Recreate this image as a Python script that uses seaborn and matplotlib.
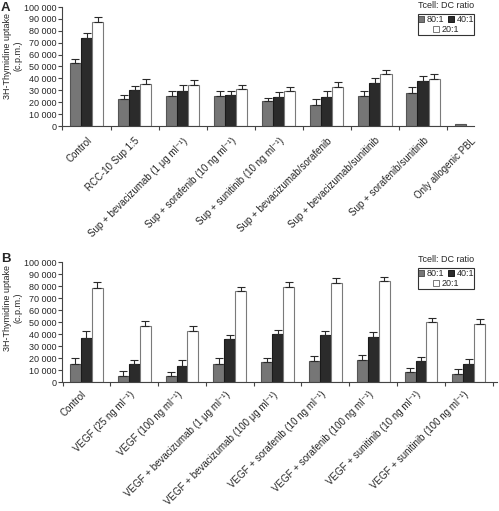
import numpy as np
import pandas as pd
import matplotlib
matplotlib.use("Agg")
import matplotlib.pyplot as plt
import seaborn as sns
from matplotlib.lines import Line2D
from matplotlib.patches import Rectangle
from matplotlib.ticker import FuncFormatter
from matplotlib.transforms import ScaledTranslation

# ---------------- data ----------------
ratios = ["80:1", "40:1", "20:1"]

cats_a = ["Control", "RCC-10 Sup 1:5", "Sup + bevacizumab (1 μg ml⁻¹)",
          "Sup + sorafenib (10 ng ml⁻¹)", "Sup + sunitinib (10 ng ml⁻¹)",
          "Sup + bevacizumab/sorafenib", "Sup + bevacizumab/sunitinib",
          "Sup + sorafenib/sunitinib", "Only allogenic PBL"]
a_80 = [53000, 23000, 25000, 25500, 21000, 17500, 25000, 28000, 2000]
a_80_err = [3600, 3400, 4200, 3900, 2500, 5500, 4500, 4800, 0]
a_40 = [74000, 30300, 29700, 26000, 24500, 24500, 36500, 38000, np.nan]
a_40_err = [4200, 3400, 4500, 3600, 4000, 5000, 3600, 4200, np.nan]
a_20 = [87000, 35000, 34500, 30800, 29500, 32500, 43500, 39500, np.nan]
a_20_err = [4500, 4500, 4500, 3400, 3000, 4500, 3400, 4200, np.nan]

cats_b = ["Control", "VEGF (25 ng ml⁻¹)", "VEGF (100 ng ml⁻¹)",
          "VEGF + bevacizumab (1 μg ml⁻¹)", "VEGF + bevacizumab (100 μg ml⁻¹)",
          "VEGF + sorafenib (10 ng ml⁻¹)", "VEGF + sorafenib (100 ng ml⁻¹)",
          "VEGF + sunitinib (10 ng ml⁻¹)", "VEGF + sunitinib (100 ng ml⁻¹)"]
b_80 = [15300, 5300, 4700, 15300, 16400, 17500, 18300, 8300, 6700]
b_80_err = [4400, 4200, 3900, 4400, 3900, 4200, 4400, 3300, 4400]
b_40 = [36900, 15000, 13600, 35600, 40000, 39200, 37500, 17500, 15300]
b_40_err = [5500, 3300, 4400, 3600, 3000, 3600, 3900, 3000, 3900]
b_20 = [78000, 46700, 42500, 75600, 79200, 82500, 84200, 50000, 48300]
b_20_err = [5300, 4200, 4200, 3300, 4200, 3900, 3000, 3300, 4200]

yticks = list(range(0, 100001, 10000))
ylabel = "3H-Thymidine uptake\n(c.p.m.)"
legend_title = "Tcell: DC ratio"

# ---------------- style ----------------
sns.set_style("ticks")
plt.rcParams['font.family'] = ['Liberation Sans', 'DejaVu Sans']

fills = {"80:1": "#767676", "40:1": "#2b2b2b", "20:1": "#ffffff"}
edges = {"80:1": "#555555", "40:1": "#1a1a1a", "20:1": "#7a7a7a"}
axcol = "#444444"
W, H = 499, 511


def long_df(cats, series, errs):
    rows = []
    for r, vals, ers in zip(ratios, series, errs):
        for c, v, e in zip(cats, vals, ers):
            rows.append({"category": c, "ratio": r, "value": v, "err": e})
    return pd.DataFrame(rows)


def panel(fig, ax, df, cats, xmax, label_pad, label_dx):
    sns.barplot(data=df, x="category", y="value", hue="ratio", order=cats,
                hue_order=ratios, palette=fills, width=0.69, saturation=1,
                errorbar=None, legend=False, ax=ax, linewidth=0.8)
    lookup = df.set_index(["category", "ratio"])["err"]
    for cont, r in zip(ax.containers, ratios):
        for bar in cont:
            bar.set_edgecolor(edges[r])
            h = bar.get_height()
            if not np.isfinite(h):
                continue
            xc = bar.get_x() + bar.get_width() / 2
            i = int(round(xc))
            e = lookup[(cats[i], r)]
            if not np.isfinite(e) or e <= 0:
                continue
            ax.errorbar([xc], [h], yerr=[[0], [e]], fmt='none', ecolor='#2a2a2a',
                        elinewidth=0.8, capsize=2.6, capthick=0.8, zorder=3)
    ax.set_yticks(yticks)
    ax.yaxis.set_major_formatter(FuncFormatter(lambda v, _: f"{int(v):,}".replace(",", " ")))
    ax.set_xticks(range(len(cats)))
    ax.set_xticklabels(cats, rotation=45, ha='right', va='top', rotation_mode='anchor')
    bounds = np.arange(-0.5, len(cats), 1)
    ax.set_xticks(bounds[bounds <= xmax], minor=True)
    ax.set_xlim(-0.5, xmax)
    ax.set_ylim(0, 100000)
    ax.tick_params(axis='x', which='major', length=0, pad=label_pad, labelsize=7)
    ax.tick_params(axis='x', which='minor', length=3, width=0.8, color=axcol)
    ax.tick_params(axis='y', length=3, width=0.8, color=axcol, pad=1.5, labelsize=6.5)
    off = ScaledTranslation(label_dx / 100, 0, fig.dpi_scale_trans)
    for lab in ax.get_xticklabels():
        lab.set_transform(lab.get_transform() + off)
    ax.set_xlabel("")
    ax.set_ylabel("")
    for s in ["top", "right"]:
        ax.spines[s].set_visible(False)
    for s in ["left", "bottom"]:
        ax.spines[s].set_color(axcol)
        ax.spines[s].set_linewidth(0.8)


def legend_block(fig, ax, x0, x1, ytop_box, ybot_box, ytitle, yrow1, yrow2):
    handles = [Line2D([0], [0], marker='s', linestyle='none', markersize=4,
                      markerfacecolor=fills[r], markeredgecolor=edges[r],
                      markeredgewidth=0.7, label=r) for r in ratios]
    xc = (x0 + x1) / 2 / W
    leg1 = ax.legend(handles=handles[:2], ncol=2, frameon=False, fontsize=6.5,
                     loc='center', bbox_to_anchor=(xc, 1 - yrow1 / H),
                     bbox_transform=fig.transFigure, handlelength=0.6,
                     handletextpad=0.3, columnspacing=0.5, borderpad=0,
                     borderaxespad=0)
    ax.add_artist(leg1)
    ax.legend(handles=handles[2:], frameon=False, fontsize=6.5, loc='center',
              bbox_to_anchor=(xc, 1 - yrow2 / H), bbox_transform=fig.transFigure,
              handlelength=0.6, handletextpad=0.3, borderpad=0, borderaxespad=0)
    fig.patches.append(Rectangle((x0 / W, 1 - ybot_box / H), (x1 - x0) / W,
                                 (ybot_box - ytop_box) / H, transform=fig.transFigure,
                                 fill=False, edgecolor='#333333', linewidth=0.8))
    fig.text(xc, 1 - ytitle / H, legend_title, ha='center', va='center', fontsize=6.5)


fig = plt.figure(figsize=(W / 100, H / 100), dpi=100)

# panel A: left 62.5, right 474, top 7, bottom 126
axA = fig.add_axes([62.5 / W, 1 - 126 / H, (474 - 62.5) / W, 119 / H])
dfA = long_df(cats_a, [a_80, a_40, a_20], [a_80_err, a_40_err, a_20_err])
panel(fig, axA, dfA, cats_a, -0.5 + (474 - 62.5) / 48.07, 7, 0)

# panel B: left 62.5, right 497, top 262, bottom 382
axB = fig.add_axes([62.5 / W, 1 - 382 / H, (497 - 62.5) / W, 120 / H])
dfB = long_df(cats_b, [b_80, b_40, b_20], [b_80_err, b_40_err, b_20_err])
panel(fig, axB, dfB, cats_b, -0.5 + (497 - 62.5) / 47.8, 5.5, -5)

# y labels
fig.text(13 / W, 1 - 56 / H, ylabel, rotation=90, ha='center', va='center',
         fontsize=6.5, multialignment='center')
fig.text(13 / W, 1 - 308 / H, ylabel, rotation=90, ha='center', va='center',
         fontsize=6.5, multialignment='center')

# panel letters
fig.text(1 / W, 1 - 2 / H, "A", ha='left', va='top', fontsize=9.5, fontweight='bold')
fig.text(1 / W, 1 - 253 / H, "B", ha='left', va='top', fontsize=9.5, fontweight='bold')

# legends
legend_block(fig, axA, 418, 474, 14, 35, 5.5, 19.5, 29.5)
legend_block(fig, axB, 418, 474, 268, 289, 259.5, 273.5, 283.5)

fig.savefig("out.png", dpi=100)
